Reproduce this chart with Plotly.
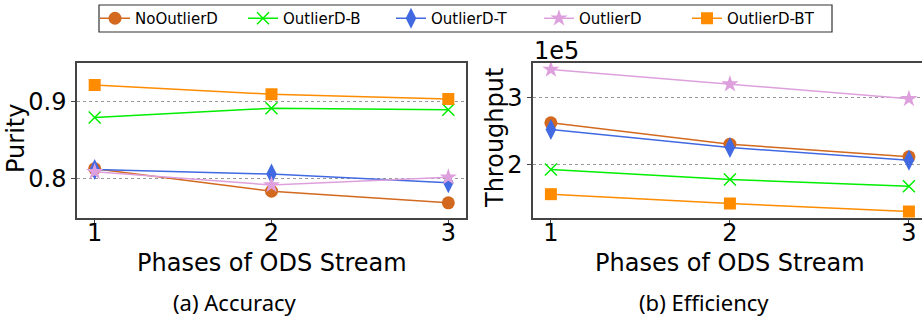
import plotly.graph_objects as go

phases = [1, 2, 3]
series_names = ["NoOutlierD", "OutlierD-B", "OutlierD-T", "OutlierD", "OutlierD-BT"]
purity = {
    "NoOutlierD": [0.813, 0.784, 0.769],
    "OutlierD-B": [0.879, 0.891, 0.889],
    "OutlierD-T": [0.812, 0.806, 0.795],
    "OutlierD": [0.809, 0.792, 0.802],
    "OutlierD-BT": [0.921, 0.909, 0.903],
}
throughput = {
    "NoOutlierD": [262000, 230000, 211000],
    "OutlierD-B": [192000, 177000, 167000],
    "OutlierD-T": [252000, 225000, 206000],
    "OutlierD": [342000, 320000, 298000],
    "OutlierD-BT": [155000, 141000, 129000],
}
purity_ticks = [0.8, 0.9]
throughput_ticks = [200000, 300000]
throughput_ticktext = ["2", "3"]

styles = {
    "NoOutlierD": dict(color="#D2691E", symbol="circle", size=13),
    "OutlierD-B": dict(color="#00EE00", symbol="x-thin-open", size=12),
    "OutlierD-T": dict(color="#4169E1", symbol="diamond-tall", size=15),
    "OutlierD": dict(color="#DDA0DD", symbol="star", size=13),
    "OutlierD-BT": dict(color="#FF8C00", symbol="square", size=12),
}

W, H = 922, 327
fig = go.Figure()

for name in series_names:
    st = styles[name]
    mk = dict(color=st["color"], symbol=st["symbol"], size=st["size"])
    if st["symbol"] == "x-thin-open":
        mk["line"] = dict(color=st["color"], width=1.5)
    fig.add_trace(go.Scatter(x=phases, y=purity[name], name=name, mode="lines+markers",
                             line=dict(color=st["color"], width=1.5), marker=mk,
                             xaxis="x", yaxis="y", legendgroup=name))
    fig.add_trace(go.Scatter(x=phases, y=throughput[name], name=name, mode="lines+markers",
                             line=dict(color=st["color"], width=1.5), marker=mk,
                             xaxis="x2", yaxis="y2", legendgroup=name, showlegend=False,
                             cliponaxis=False))

ydom = [(H - 217.5) / H, (H - 62.5) / H]
axis_font = dict(family="DejaVu Sans", size=24, color="black")
frame = dict(showline=True, linecolor="#444", linewidth=1.5, ticks="outside", ticklen=4,
             tickcolor="#444", tickfont=axis_font, zeroline=False, automargin=False)

fig.update_layout(
    width=W, height=H, margin=dict(l=0, r=0, t=0, b=0, autoexpand=False),
    paper_bgcolor="white", plot_bgcolor="white",
    xaxis=dict(domain=[77 / W, 466 / W], range=[0.9, 3.1], tickvals=phases, showgrid=False,
               mirror=True, anchor="y", ticklabelstandoff=-11, **frame),
    yaxis=dict(domain=ydom, range=[0.75, 0.95], tickvals=purity_ticks, tickformat=".1f",
               showgrid=True, gridcolor="#999", griddash="dot", gridwidth=1,
               mirror=True, anchor="x", **frame),
    xaxis2=dict(domain=[533 / W, 1.0], range=[0.9, 3.073], tickvals=phases, showgrid=False,
                mirror=True, anchor="y2", ticklabelstandoff=-11, **frame),
    yaxis2=dict(domain=ydom, range=[120000, 352500], tickvals=throughput_ticks,
                ticktext=throughput_ticktext,
                showgrid=True, gridcolor="#999", griddash="dot", gridwidth=1,
                mirror=False, anchor="x2", **frame),
    legend=dict(orientation="h", x=465 / W, xanchor="center", y=1 - 18.5 / H, yanchor="middle",
                font=dict(family="DejaVu Sans", size=15, color="black"),
                borderwidth=0, bgcolor="rgba(0,0,0,0)",
                entrywidth=103, entrywidthmode="pixels"),
    showlegend=True,
    shapes=[dict(type="rect", xref="paper", yref="paper", x0=99 / W, x1=832 / W,
                 y0=1 - 32 / H, y1=1 - 5 / H, line=dict(color="#333", width=1.2),
                 fillcolor="white", layer="below")],
)

ann = []
def add_text(text, xpx, ypx, size, family="DejaVu Sans", angle=0):
    ann.append(dict(text=text, x=xpx / W, y=1 - ypx / H, xref="paper", yref="paper",
                    xanchor="center", yanchor="middle", showarrow=False, textangle=angle,
                    font=dict(family=family, size=size, color="black")))

add_text("Phases of ODS Stream", 272, 263, 24)
add_text("Phases of ODS Stream", 730, 263, 24)
add_text("Purity", 16, 139, 24, angle=-90)
add_text("Throughput", 495, 138, 24, angle=-90)
add_text("1e5", 556, 51, 24)
add_text("(a) Accuracy", 235, 302, 22, family="Noto Sans")
add_text("(b) Efficiency", 704, 302, 22, family="Noto Sans")
fig.update_layout(annotations=ann)

fig.write_html("out.html", config={"displayModeBar": False},
               post_script="document.body.style.margin='0';document.body.style.overflow='hidden';")
